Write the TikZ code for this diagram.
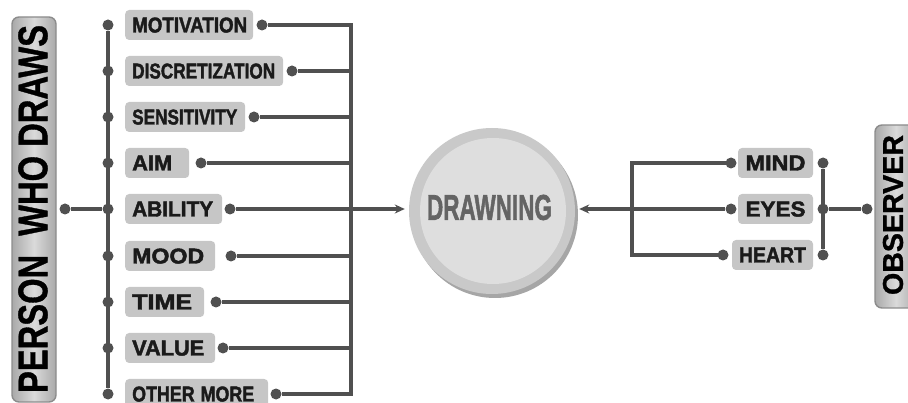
\documentclass[tikz,border=0pt]{standalone}
\usepackage{fontspec}
\usepackage{graphicx}
\usetikzlibrary{arrows.meta}
\newfontfamily\labfont[UprightFeatures={FakeBold=2.0}]{Liberation Sans Bold}
\newfontfamily\hubfont[UprightFeatures={FakeBold=2.0}]{Liberation Sans Bold}
\newfontfamily\barfont[UprightFeatures={FakeBold=1.0}]{Liberation Sans Bold}
\newcommand{\fitto}[3]{\resizebox{#1pt}{#2pt}{#3}}
\definecolor{linegray}{HTML}{505050}
\definecolor{boxgray}{HTML}{C6C6C6}
\definecolor{textdark}{HTML}{1A1A1A}
\definecolor{hubring}{HTML}{C9C9C9}
\definecolor{hubface}{HTML}{DEDEDE}
\definecolor{hubshadow}{HTML}{A6A6A6}
\definecolor{hubtext}{HTML}{646464}
\definecolor{barlight}{HTML}{DADADA}
\definecolor{bardark}{HTML}{A9A9A9}
\definecolor{baredge}{HTML}{8C8C8C}
\tikzset{
  conn/.style={draw=linegray, line width=3.2pt},
  dot/.style={circle, fill=linegray, inner sep=0pt, minimum size=11pt},
  lbox/.style={fill=boxgray, rounded corners=4pt, minimum height=30pt,
    inner xsep=7pt, inner ysep=0pt, anchor=west, align=left,
    text height=15pt, text depth=0pt, text=textdark, font=\labfont},
  rbox/.style={fill=boxgray, rounded corners=4pt, minimum height=30pt,
    inner sep=0pt, text height=15pt, text depth=0pt, text=textdark,
    font=\labfont},
  sidebar/.style={draw=baredge, line width=1.4pt, rounded corners=7pt,
    left color=bardark, right color=bardark, middle color=barlight,
    inner sep=0pt},
  bartext/.style={rotate=90, text=black, inner sep=0pt, font=\barfont}
}
\begin{document}
\begin{tikzpicture}[x=1pt, y=-1pt]
\useasboundingbox (0,0) rectangle (908,403);
\clip (0,0) rectangle (908,403);

% person who draws
\node[sidebar, minimum width=44pt, minimum height=385pt] (person) at (34,209.5) {};
\node[bartext] (persontxt) at (33,209) {\fitto{368}{29}{PERSON\hspace{0.3em} WHO DRAWS}};
\node[dot] (pjoin) at (65,209) {};

% factors of the drawer: name / text / row / box width / text width / right dot
\foreach \nm/\txt/\yy/\bw/\tw/\dx in {
  motivation/MOTIVATION/25/128/115/262,
  discretization/DISCRETIZATION/71/158/143/292,
  sensitivity/SENSITIVITY/117/120/105/254,
  aim/AIM/163/64/40/201,
  ability/ABILITY/209/97/81/230,
  mood/MOOD/256/90/72/231,
  time/TIME/302/79/60/216,
  value/VALUE/348/90/72/223,
  other/OTHER MORE/394/143/122/276}{
  \pgfmathsetmacro\inw{\bw-14}
  \node[dot] (\nm-l) at (108,\yy) {};
  \node[lbox, text width=\inw pt] (\nm-box) at (125,\yy) {\fitto{\tw}{15}{\txt}};
  \node[dot] (\nm-r) at (\dx,\yy) {};
  \coordinate (\nm-t) at (351,\yy);
  \draw[conn] (\nm-r) -- (\nm-t);
}
\draw[conn] (motivation-l) -- (other-l);
\draw[conn, line cap=rect] (motivation-t) -- (other-t);
\draw[conn] (pjoin) -- (ability-l);

% central drawing
\fill[hubshadow] (495,215) circle (83pt);
\node[circle, fill=hubring, minimum size=166pt, inner sep=0pt] (hub) at (492,211) {};
\fill[hubface] (493,211) circle (73pt);
\node[text=hubtext, font=\hubfont, inner sep=0pt] (hubtxt) at (489.5,207.5) {\fitto{125}{25}{DRAWNING}};

\draw[conn, -{Stealth[length=10pt,width=9pt]}, shorten >=4pt] (ability-t) -- (hub.west |- ability-t);

% observer side
\node[rbox, minimum width=75pt] (mind) at (775.5,163) {\fitto{60}{15}{MIND}};
\node[rbox, minimum width=75pt] (eyes) at (775.5,209) {\fitto{60}{15}{EYES}};
\node[rbox, minimum width=81pt] (heart) at (772.5,255) {\fitto{67}{15}{HEART}};
\node[dot] (mind-l) at (731,163) {};
\node[dot] (eyes-l) at (731,209) {};
\node[dot] (heart-l) at (723,255) {};
\coordinate (bk-top) at (632,163);
\coordinate (bk-bot) at (632,255);
\draw[conn, line join=miter] (mind-l.center) -- (bk-top) -- (bk-bot) -- (heart-l.center);
\draw[conn, -{Stealth[length=10pt,width=9pt]}, shorten >=4pt] (eyes-l) -- (hub.east |- eyes-l);

\node[dot] (mind-r) at (823,163) {};
\node[dot] (eyes-r) at (823,209) {};
\node[dot] (heart-r) at (823,255) {};
\draw[conn] (mind-r) -- (heart-r);
\node[dot] (ojoin) at (867,209) {};
\draw[conn] (eyes-r) -- (ojoin);

\node[sidebar, minimum width=42pt, minimum height=183pt] (observer) at (896,216.5) {};
\node[bartext] (observertxt) at (893,215) {\fitto{160}{20}{OBSERVER}};
\end{tikzpicture}
\end{document}
